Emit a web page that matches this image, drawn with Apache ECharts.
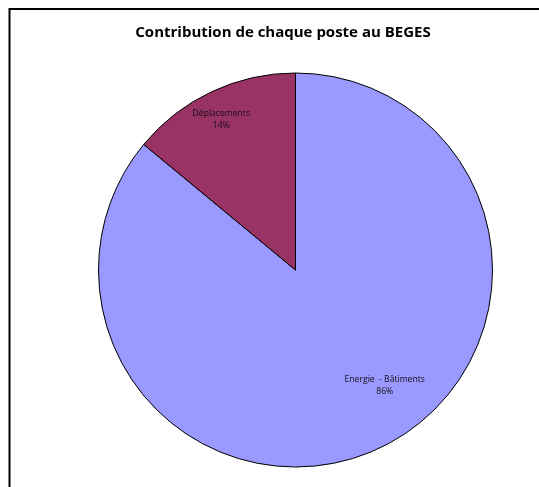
<!DOCTYPE html>
<html>
<head>
<meta charset="utf-8">
<script src="https://cdn.jsdelivr.net/npm/echarts@6/dist/echarts.min.js"></script>
<style>html,body{margin:0;padding:0;background:#fff}#c{width:539px;height:487px}</style>
</head>
<body>
<div id="c"></div>
<script>
const title = 'Contribution de chaque poste au BEGES';
const categories = ['Energie  - Bâtiments', 'Déplacements'];
const values = [86, 14];
const colors = ['#9999FF', '#993366'];
const labelOffsets = [[46, 24], [-31, -59]];

const chart = echarts.init(document.getElementById('c'), null, {renderer: 'canvas'});
chart.setOption({
  animation: false,
  backgroundColor: '#fff',
  title: {
    text: title, left: 278, top: 20, textAlign: 'center',
    textStyle: {fontFamily: 'Open Sans', fontWeight: 'bold', fontSize: 15, color: '#000'}
  },
  graphic: [
    {type: 'line', shape: {x1: 9, y1: 9, x2: 539, y2: 9}, style: {stroke: '#000', lineWidth: 2}},
    {type: 'line', shape: {x1: 9.5, y1: 8, x2: 9.5, y2: 487}, style: {stroke: '#000', lineWidth: 2}}
  ],
  series: [{
    type: 'pie',
    center: [295.5, 270],
    radius: 197,
    startAngle: 90,
    clockwise: true,
    itemStyle: {borderColor: '#000', borderWidth: 1},
    label: {
      position: 'inside',
      formatter: p => p.name + '\n' + Math.round(p.percent) + '%',
      fontFamily: 'Open Sans', fontSize: 8.6, color: '#111', lineHeight: 12, align: 'center'
    },
    labelLine: {show: false},
    emphasis: {disabled: true},
    data: categories.map((n, i) => ({
      name: n, value: values[i],
      itemStyle: {color: colors[i]},
      label: {offset: labelOffsets[i]}
    }))
  }]
});
</script>
</body>
</html>
